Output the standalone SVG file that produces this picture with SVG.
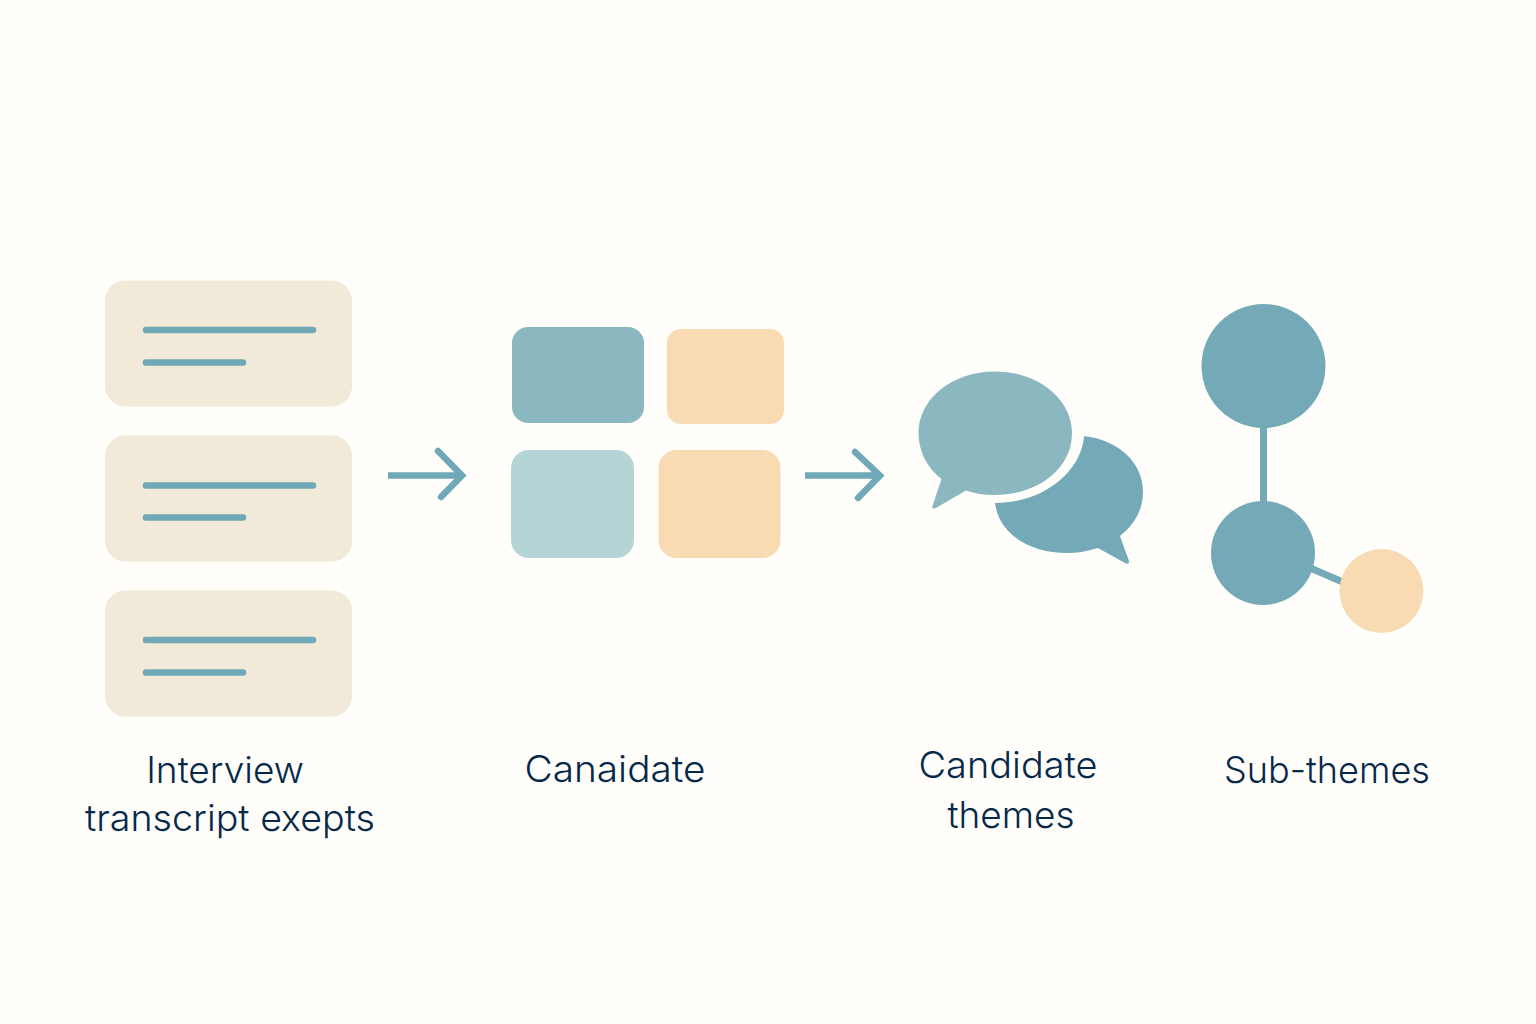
<svg xmlns="http://www.w3.org/2000/svg" width="1536" height="1024" viewBox="0 0 1536 1024">
<style>
.card{fill:#f1ead9;stroke:#efe8d6;stroke-width:1}
.ln{stroke:#6fa8b6;stroke-width:6.5;stroke-linecap:round;fill:none}
.lbl{font-family:"Inter","Noto Sans",sans-serif;font-weight:300;font-size:37px;fill:#06294a;text-anchor:middle}
.arr{stroke:#6fa8b6;stroke-width:6.500;fill:none;stroke-linejoin:miter}
.dk{fill:#74aab8}.md{fill:#8ab7c0}.lt{fill:#b5d4d6}.pe{fill:#f8dbb3}
</style>
<rect width="1536" height="1024" fill="#fffefb"/>
<g id="connectors">
<path class="arr" d="M388 475.500H461"/><path class="arr" stroke-linecap="round" d="M438 451L462 475.500L441 497"/>
<path class="arr" d="M805 475.500H878"/><path class="arr" stroke-linecap="round" d="M855 452L880 475.500L858 498"/>
<path d="M1263.500 420V510" stroke="#74aab8" stroke-width="7" fill="none"/>
<path d="M1308 567L1345 583" stroke="#74aab8" stroke-width="7" fill="none"/>
</g>
<g id="card1"><rect class="card" x="105.500" y="281" width="246" height="125" rx="20"/><path class="ln" d="M146 330H313M146 362.500H243"/></g>
<g id="card2"><rect class="card" x="105.500" y="436" width="246" height="125" rx="20"/><path class="ln" d="M146 485.500H313M146 517.500H243"/></g>
<g id="card3"><rect class="card" x="105.500" y="591" width="246" height="125" rx="20"/><path class="ln" d="M146 640H313M146 672.500H243"/></g>
<g id="label1"><text class="lbl" x="225" y="783">Interview</text><text class="lbl" x="230" y="831" textLength="290" lengthAdjust="spacingAndGlyphs">transcript exepts</text></g>
<g id="grid">
<rect class="md" x="512" y="327" width="132" height="96" rx="16"/>
<rect class="pe" x="667" y="329" width="117" height="95" rx="14"/>
<rect class="lt" x="511" y="450" width="123" height="108" rx="18"/>
<rect class="pe" x="658.500" y="450" width="122" height="108" rx="18"/>
</g>
<g id="label2"><text class="lbl" x="615" y="782" textLength="181" lengthAdjust="spacingAndGlyphs">Canaidate</text></g>
<g id="bubbles">
<path class="md" d="M995 371.500C1038 371.500 1072 399 1072 433C1072 469 1038 495 994 495C984 495 975 493.500 966 490.500L935 508.500Q931.500 509 932.500 506L941.500 479C927 468 918.500 451 918.500 433C918.500 399 952 371.500 995 371.500Z"/>
<path class="dk" d="M1084 436C1118 440 1143 462 1143 492C1143 510 1134 525 1120 536L1129 561Q1129.500 564.500 1126 563.500L1098 548C1088 551 1078 553 1067 553C1031 553 999 535 995 503C1045 503 1082 470 1084 436Z"/>
</g>
<g id="label3"><text class="lbl" x="1008" y="778" textLength="179" lengthAdjust="spacingAndGlyphs">Candidate</text><text class="lbl" x="1011" y="828">themes</text></g>
<g id="tree">
<circle class="dk" cx="1263.500" cy="366" r="62"/>
<circle class="dk" cx="1263" cy="553" r="52"/>
<circle class="pe" cx="1381.500" cy="591" r="42"/>
</g>
<g id="label4"><text class="lbl" x="1327" y="783" textLength="206" lengthAdjust="spacingAndGlyphs">Sub-themes</text></g>
</svg>
